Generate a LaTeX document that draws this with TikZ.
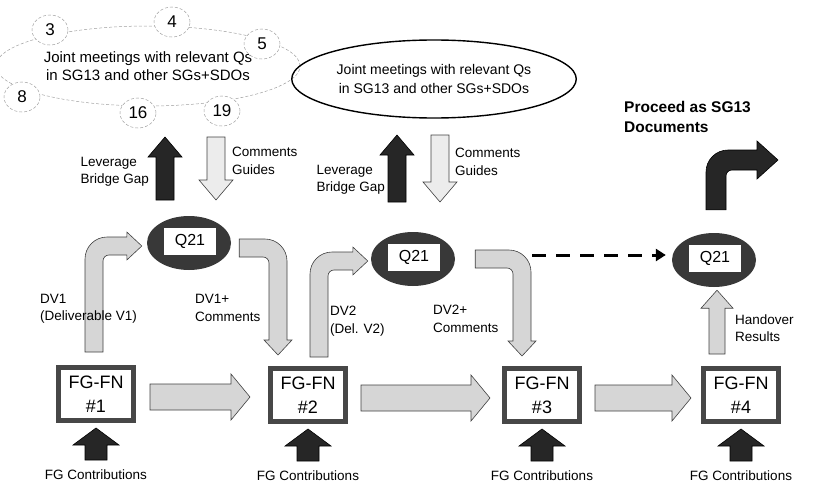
\documentclass[tikz,border=0pt]{standalone}
\usepackage{fontspec}
\setmainfont{Liberation Sans}
\usetikzlibrary{shapes.geometric,calc,arrows.meta}
% block arrow macros: #1 style, #2 start, #3 tip
\def\aw{9pt}\def\ah{15pt}\def\al{15pt}\def\aR{20pt}\def\ar{5pt}
\newcommand{\uparr}[3]{\draw[#1] let \p1=(#2), \p2=(#3) in
  (\x1-\aw,\y1) -- (\x1-\aw,\y2-\al) -- (\x1-\ah,\y2-\al) -- (\x1,\y2) -- (\x1+\ah,\y2-\al) -- (\x1+\aw,\y2-\al) -- (\x1+\aw,\y1) -- cycle;}
\newcommand{\downarr}[3]{\draw[#1] let \p1=(#2), \p2=(#3) in
  (\x1-\aw,\y1) -- (\x1-\aw,\y2+\al) -- (\x1-\ah,\y2+\al) -- (\x1,\y2) -- (\x1+\ah,\y2+\al) -- (\x1+\aw,\y2+\al) -- (\x1+\aw,\y1) -- cycle;}
\newcommand{\rarr}[3]{\draw[#1] let \p1=(#2), \p2=(#3) in
  (\x1,\y1+\aw) -- (\x2-\al,\y1+\aw) -- (\x2-\al,\y1+\ah) -- (\x2,\y1) -- (\x2-\al,\y1-\ah) -- (\x2-\al,\y1-\aw) -- (\x1,\y1-\aw) -- cycle;}
\newcommand{\elbowur}[3]{\draw[#1] let \p1=(#2), \p2=(#3) in
  (\x1-\aw,\y1) -- (\x1-\aw,\y2+\aw-\aR) arc[start angle=180,end angle=90,radius=\aR]
  -- (\x2-\al,\y2+\aw) -- (\x2-\al,\y2+\ah) -- (\x2,\y2) -- (\x2-\al,\y2-\ah) -- (\x2-\al,\y2-\aw)
  -- (\x1+\aw+\ar,\y2-\aw) arc[start angle=90,end angle=180,radius=\ar] -- (\x1+\aw,\y1) -- cycle;}
\newcommand{\elbowrd}[3]{\draw[#1] let \p1=(#2), \p2=(#3) in
  (\x1,\y1+\aw) -- (\x2+\aw-\aR,\y1+\aw) arc[start angle=90,end angle=0,radius=\aR]
  -- (\x2+\aw,\y2+\al) -- (\x2+\ah,\y2+\al) -- (\x2,\y2) -- (\x2-\ah,\y2+\al) -- (\x2-\aw,\y2+\al)
  -- (\x2-\aw,\y1-\aw-\ar) arc[start angle=0,end angle=90,radius=\ar] -- (\x1,\y1-\aw) -- cycle;}
\begin{document}
\begin{tikzpicture}[x=1pt,y=1pt,
  font=\fontsize{13.5}{17.5}\selectfont,
  hatch/.style={draw=black!75, line width=0.6pt, fill=gray!32},
  blk/.style={draw=black, line width=0.6pt, fill=black!85},
  qnode/.style={ellipse, fill=black!78, minimum width=84pt, minimum height=54pt, inner sep=0pt},
  qlabel/.style={fill=white, minimum width=52pt, minimum height=27pt, inner sep=0pt, font=\fontsize{16}{18}\selectfont},
  fgbox/.style={draw=black!72, line width=5pt, fill=white, minimum width=75pt, minimum height=53pt, align=center, inner sep=0pt, font=\fontsize{18}{24}\selectfont},
  lbl/.style={align=left, inner sep=0pt},
  dcirc/.style={ellipse, draw=gray!75, densely dashed, line width=0.5pt, fill=white, minimum width=36pt, minimum height=30pt, inner sep=0pt, font=\fontsize{17}{18}\selectfont}
]
\useasboundingbox (0,0) rectangle (814,-487);

% top-left meeting cluster
\node[ellipse, draw=gray!75, densely dashed, line width=0.5pt, minimum width=286pt, minimum height=80pt, align=center, font=\fontsize{15}{18}\selectfont] (meet1) at (148,-66) {Joint meetings with relevant Qs\\in SG13 and other SGs+SDOs};
\node[dcirc] (c3) at (50,-30) {3};
\node[dcirc] (c4) at (172,-22) {4};
\node[dcirc] (c5) at (262,-44) {5};
\node[dcirc] (c8) at (22,-97) {8};
\node[dcirc] (c16) at (138,-113) {16};
\node[dcirc] (c19) at (222,-111) {19};

% second meeting ellipse
\node[ellipse, draw=black, line width=1.4pt, minimum width=234pt, minimum height=78pt, align=center, font=\fontsize{14}{19}\selectfont] (meet2) at (434,-79) {Joint meetings with relevant Qs\\in SG13 and other SGs+SDOs};

% Q21 nodes
\node[qnode] (q1) at (189,-243) {};
\node[qlabel] at ($(q1)+(1,2)$) (q1t) {Q21};
\node[qnode] (q2) at (413,-259) {};
\node[qlabel] at ($(q2)+(1,2)$) (q2t) {Q21};
\node[qnode] (q4) at (714,-260) {};
\node[qlabel] at ($(q4)+(1,2)$) (q4t) {Q21};

% FG-FN boxes
\node[fgbox] (b1) at (96,-394) {FG-FN\\\#1};
\node[fgbox] (b2) at (308,-395) {FG-FN\\\#2};
\node[fgbox] (b3) at (542,-395) {FG-FN\\\#3};
\node[fgbox] (b4) at (741,-395) {FG-FN\\\#4};

% connector end coordinates
\coordinate (l1b) at (165,-200); \coordinate (l1t) at (165,-137);
\coordinate (c1t) at (216,-137); \coordinate (c1b) at (216,-200);
\coordinate (l2b) at (397,-202); \coordinate (l2t) at (397,-135);
\coordinate (c2t) at (440,-135); \coordinate (c2b) at (440,-202);
\coordinate (proc) at (778,-160);
\coordinate (dstart) at (532,-255);

% leverage / comments arrows
\def\aw{9pt}\def\ah{17pt}\def\al{20pt}
\uparr{blk}{l1b}{l1t}
\uparr{blk}{l2b}{l2t}
\downarr{hatch, fill=gray!15}{c1t}{c1b}
\downarr{hatch, fill=gray!15}{c2t}{c2b}

% horizontal arrows between boxes
\def\aw{13pt}\def\ah{23pt}\def\al{19pt}
\rarr{hatch}{$(b1.east)+(14,-3)$}{$(b2.west)+(-18,-3)$}
\rarr{hatch}{$(b2.east)+(13,-3)$}{$(b3.west)+(-12,-3)$}
\rarr{hatch}{$(b3.east)+(13,-3)$}{$(b4.west)+(-10,-3)$}

% FG contributions arrows
\def\aw{11pt}\def\ah{23pt}\def\al{17pt}
\foreach \b in {b1,b2,b3,b4}{
  \uparr{blk}{$(\b.south)+(0,-37)$}{$(\b.south)+(0,-5)$}
  \node[inner sep=0pt] at ($(\b.south)+(0,-52)$) {FG Contributions};
}

% elbow arrows
\def\aw{9pt}\def\ah{14pt}\def\al{15pt}\def\aR{22pt}\def\ar{6pt}
\elbowur{hatch}{$(b1.north)+(-2,13)$}{$(q1.west)+(-5,-3)$}
\elbowrd{hatch}{$(q1.east)+(8,-5)$}{$(b2.north)+(-30,11)$}
\elbowur{hatch}{$(b2.north)+(11,9)$}{$(q2.west)+(-3,-2)$}
\elbowrd{hatch}{$(q2.east)+(20,0)$}{$(b3.north)+(-20,10)$}

% handover
\def\aw{8pt}\def\ah{16pt}\def\al{18pt}
\uparr{hatch}{$(b4.north)+(-24,12)$}{$(q4.south)+(3,-3)$}

% proceed
\def\aw{10pt}\def\ah{19pt}\def\al{21pt}\def\aR{22pt}\def\ar{6pt}
\elbowur{blk}{$(q4.north)+(2,23)$}{proc}

% dashed arrow
\draw[line width=3pt, dash pattern=on 14pt off 10pt, -{Triangle[length=10pt,width=12pt]}, shorten >=6pt] (dstart) -- (dstart -| q4.west);

% labels
\node[lbl, anchor=east] (lab1) at (149,-172) {Leverage\\Bridge Gap};
\node[lbl, anchor=west] (lab2) at (232,-161) {Comments\\Guides};
\node[lbl, anchor=east] (lab3) at (385,-180) {Leverage\\Bridge Gap};
\node[lbl, anchor=west] (lab4) at (455,-162) {Comments\\Guides};
\node[lbl, anchor=west] (lab5) at (40,-309) {DV1\\(Deliverable V1)};
\node[lbl, anchor=west] (lab6) at (195,-308) {DV1+\\Comments};
\node[lbl, anchor=west] (lab7) at (330,-321) {DV2\\(Del. V2)};
\node[lbl, anchor=west] (lab8) at (433,-319) {DV2+\\Comments};
\node[lbl, anchor=west] (lab9) at (735,-328) {Handover\\Results};
\node[lbl, anchor=west, font=\bfseries\fontsize{15.5}{20}\selectfont] (lab10) at (624,-117) {Proceed as SG13\\Documents};
\end{tikzpicture}
\end{document}
